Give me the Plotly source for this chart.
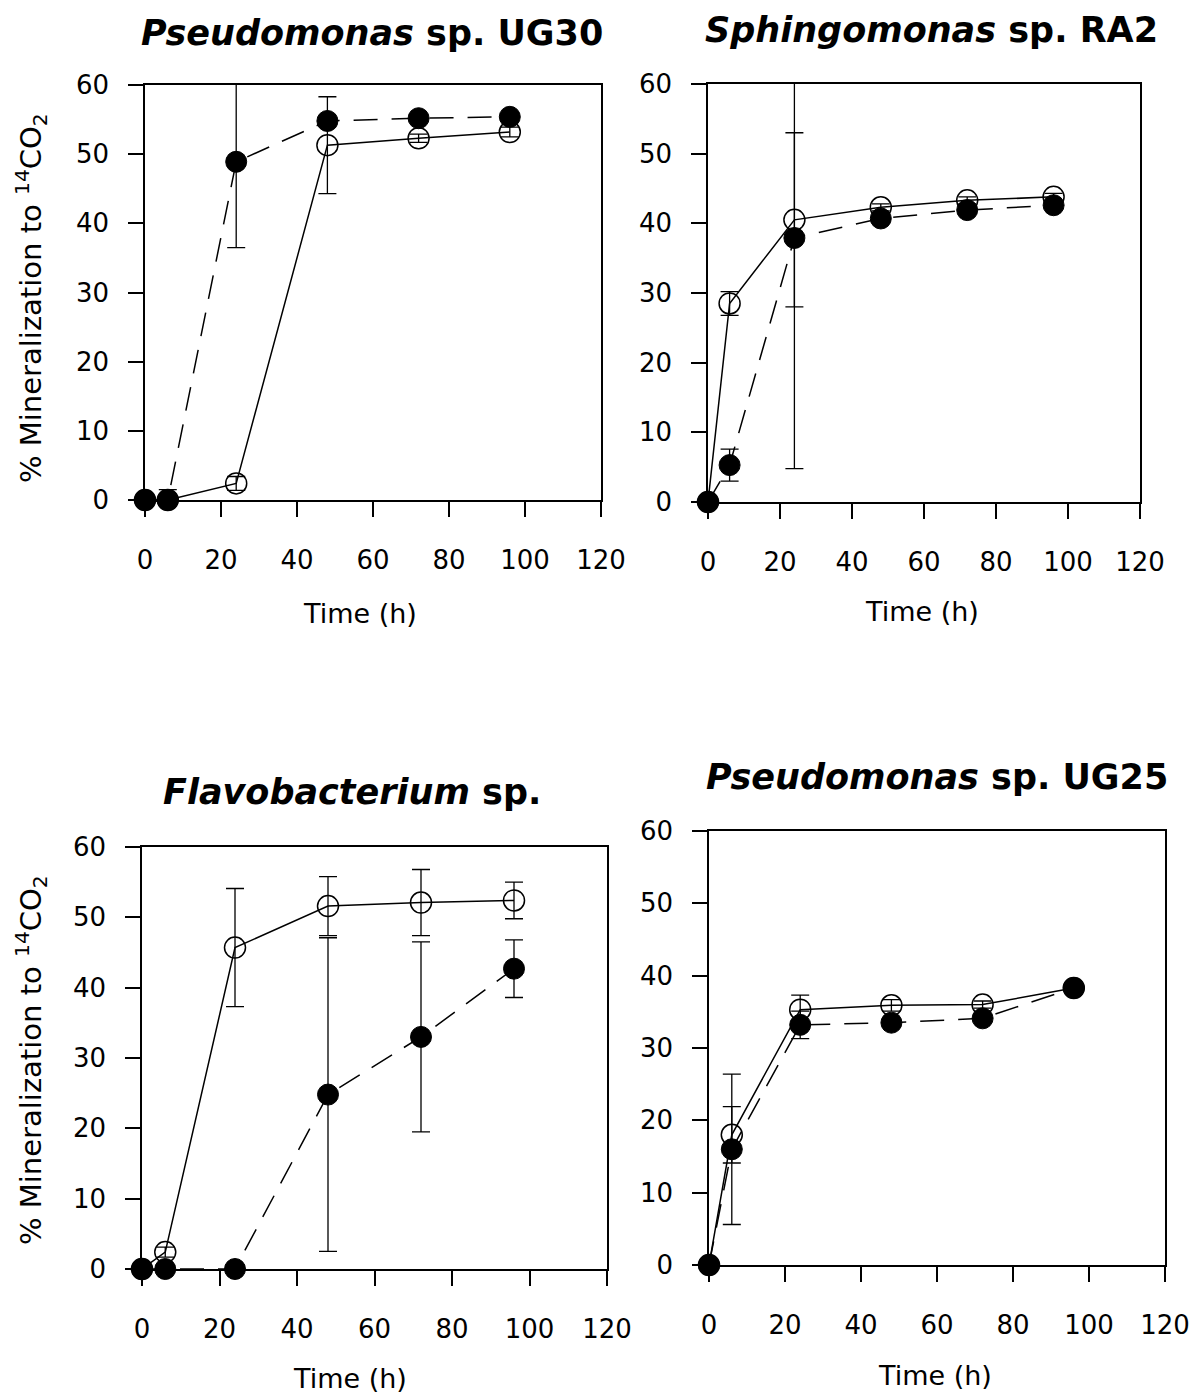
import plotly.graph_objects as go

W, H = 1195, 1394

time_h = [0, 6, 24, 48, 72, 96]

# Pseudomonas sp. UG30
ug30_open = [0, 0, 2.4, 51.3, 52.3, 53.2]
ug30_open_err = [0, 0.3, 1.0, 7.0, 0.6, 0.7]
ug30_fill = [0, 0, 48.9, 54.8, 55.2, 55.4]
ug30_fill_err = [0, 1.5, 12.4, 0.8, 0.5, 0.5]

# Sphingomonas sp. RA2
ra2_open = [0, 28.5, 40.5, 42.3, 43.3, 43.8]
ra2_open_err = [0, 1.7, 12.5, 0.5, 0.5, 0.5]
ra2_fill = [0, 5.3, 37.9, 40.7, 41.9, 42.6]
ra2_fill_err = [0, 2.3, 33.1, 0.5, 0.5, 0.5]

# Flavobacterium sp.
flavo_open = [0, 2.4, 45.7, 51.6, 52.1, 52.4]
flavo_open_err = [0, 0.7, 8.4, 4.2, 4.7, 2.6]
flavo_fill = [0, 0, 0, 24.8, 33.0, 42.7]
flavo_fill_err = [0, 0, 0, 22.3, 13.5, 4.1]

# Pseudomonas sp. UG25
ug25_open = [0, 18.0, 35.3, 35.9, 36.0, 38.3]
ug25_open_err = [0, 3.9, 2.0, 0.8, 0.5, 0.3]
ug25_fill = [0, 16.0, 33.2, 33.5, 34.1, 38.3]
ug25_fill_err = [0, 10.4, 1.9, 0.5, 0.5, 0.3]

titles = ["<b><i>Pseudomonas</i> sp. UG30</b>",
          "<b><i>Sphingomonas</i> sp. RA2</b>",
          "<b><i>Flavobacterium</i> sp.</b>",
          "<b><i>Pseudomonas</i> sp. UG25</b>"]
x_ticks = [0, 20, 40, 60, 80, 100, 120]
y_ticks = [0, 10, 20, 30, 40, 50, 60]
x_title = "Time (h)"
y_title = "% Mineralization to <sup>14</sup>CO<sub>2</sub>"

panels = [
    (ug30_open, ug30_open_err, ug30_fill, ug30_fill_err),
    (ra2_open, ra2_open_err, ra2_fill, ra2_fill_err),
    (flavo_open, flavo_open_err, flavo_fill, flavo_fill_err),
    (ug25_open, ug25_open_err, ug25_fill, ug25_fill_err),
]

# pixel geometry of each plot box: (x_left, x_right, y_top, y_bottom)
boxes = [(145, 601, 85, 500), (708, 1140, 84, 502),
         (142, 607, 847, 1269), (709, 1165, 831, 1265)]
title_pos = [(372, 33), (931, 30), (352, 792), (937, 777)]
xtitle_pos = [(360, 613), (922, 612), (350, 1378), (935, 1375)]
ytitle_pos = [(31, 298), None, (31, 1060), None]

FONT = "DejaVu Sans"
fig = go.Figure()

for i, (o, oe, f, fe) in enumerate(panels):
    sfx = "" if i == 0 else str(i + 1)
    xa, ya = "x" + sfx, "y" + sfx
    fig.add_trace(go.Scatter(
        x=time_h, y=o, xaxis=xa, yaxis=ya, mode="lines+markers",
        line=dict(color="black", width=1.5),
        marker=dict(symbol="circle-open", size=21, color="black", line=dict(width=1.5)),
        error_y=dict(type="data", array=oe, visible=True, color="black", thickness=1.3, width=9),
        cliponaxis=False, showlegend=False))
    fig.add_trace(go.Scatter(
        x=time_h, y=f, xaxis=xa, yaxis=ya, mode="lines+markers",
        line=dict(color="black", width=1.5, dash="24px,14px"),
        marker=dict(symbol="circle", size=21, color="black", line=dict(width=1, color="black")),
        error_y=dict(type="data", array=fe, visible=True, color="black", thickness=1.3, width=9),
        cliponaxis=False, showlegend=False))

    xl, xr, yt, yb = boxes[i]
    axis_common = dict(showline=True, linecolor="black", linewidth=1.5, mirror=True,
                       ticks="outside", ticklen=15, tickwidth=1.5, tickcolor="black",
                       showgrid=False, zeroline=False, automargin=False,
                       tickfont=dict(family=FONT, size=26, color="black"))
    fig.layout["xaxis" + sfx] = dict(
        domain=[xl / W, xr / W], range=[0, 120], tickvals=x_ticks,
        anchor=ya, ticklabelstandoff=21, **axis_common)
    fig.layout["yaxis" + sfx] = dict(
        domain=[1 - yb / H, 1 - yt / H], range=[0, 60], tickvals=y_ticks,
        anchor=xa, ticklabelstandoff=14, **axis_common)

    tx, ty = title_pos[i]
    fig.add_annotation(text=titles[i], x=tx / W, y=1 - ty / H, xref="paper", yref="paper",
                       xanchor="center", yanchor="middle", showarrow=False,
                       font=dict(family=FONT, size=35, color="black"))
    tx, ty = xtitle_pos[i]
    fig.add_annotation(text=x_title, x=tx / W, y=1 - ty / H, xref="paper", yref="paper",
                       xanchor="center", yanchor="middle", showarrow=False,
                       font=dict(family=FONT, size=27, color="black"))
    if ytitle_pos[i] is not None:
        tx, ty = ytitle_pos[i]
        fig.add_annotation(text=y_title, x=tx / W, y=1 - ty / H, xref="paper", yref="paper",
                           xanchor="center", yanchor="middle", showarrow=False, textangle=-90,
                           font=dict(family=FONT, size=29, color="black"))

fig.update_layout(template="none", width=W, height=H,
                  margin=dict(l=0, r=0, t=0, b=0, pad=0),
                  paper_bgcolor="white", plot_bgcolor="white",
                  font=dict(family=FONT, color="black"))

fig.write_html("out.html", config={"displayModeBar": False},
               post_script="document.body.style.margin='0';document.body.style.overflow='hidden';")
